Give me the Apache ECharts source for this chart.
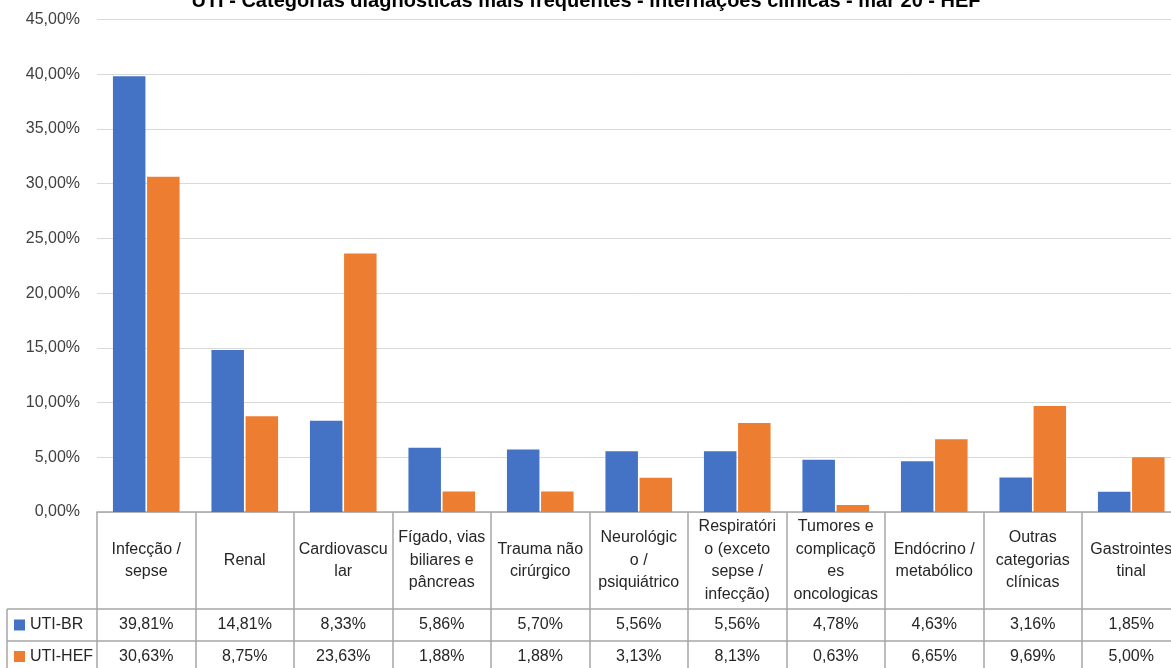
<!DOCTYPE html>
<html>
<head>
<meta charset="utf-8">
<script src="https://cdn.jsdelivr.net/npm/echarts@6/dist/echarts.min.js"></script>
<style>
  html, body { margin: 0; padding: 0; background: #fff; overflow: hidden; }
  /* o gráfico original está cortado à direita: área um pouco mais larga que a janela */
  #chart { width: 1181px; height: 668px; }
</style>
</head>
<body>
<div id="chart"></div>
<script>
// categorias como aparecem (quebra de linha igual ao Excel)
const categories = [
    'Infecção /\nsepse',
    'Renal',
    'Cardiovascu\nlar',
    'Fígado, vias\nbiliares e\npâncreas',
    'Trauma não\ncirúrgico',
    'Neurológic\no /\npsiquiátrico',
    'Respiratóri\no (exceto\nsepse /\ninfecção)',
    'Tumores e\ncomplicaçõ\nes\noncologicas',
    'Endócrino /\nmetabólico',
    'Outras\ncategorias\nclínicas',
    'Gastrointes\ntinal'
];
const seriesNames = ['UTI-BR', 'UTI-HEF'];
const utiBR = [39.81, 14.81, 8.33, 5.86, 5.70, 5.56, 5.56, 4.78, 4.63, 3.16, 1.85];
const utiHEF = [30.63, 8.75, 23.63, 1.88, 1.88, 3.13, 8.13, 0.63, 6.65, 9.69, 5.00];

const font = '"Liberation Sans", Arial, sans-serif';
const lineColor = '#a6a6a6';
const fmt = v => v.toFixed(2).replace('.', ',') + '%';

const chart = echarts.init(document.getElementById('chart'));

// eixos extras só para as linhas da tabela de dados
const tableAxis = (values, offset) => ({
    type: 'category',
    data: categories,
    position: 'bottom',
    offset: offset,
    axisLine: { show: true, lineStyle: { color: lineColor, width: 1.5 } },
    axisTick: { show: false },
    axisLabel: {
        interval: 0,
        margin: 16,
        verticalAlign: 'middle',
        fontFamily: font,
        fontSize: 16,
        color: '#262626',
        formatter: (v, i) => fmt(values[i])
    }
});

chart.setOption({
    animation: false,
    textStyle: { fontFamily: font },
    title: {
        text: 'UTI - Categorias diagnósticas mais frequentes - internações clínicas - mar 20 - HEF',
        left: 581,
        textAlign: 'center',
        top: -14,
        textStyle: { fontFamily: font, fontSize: 20, fontWeight: 'bold', color: '#000' }
    },
    legend: {
        orient: 'vertical',
        left: 14,
        top: 617,
        padding: 0,
        itemGap: 15.5,
        itemWidth: 11,
        itemHeight: 11,
        icon: 'rect',
        textStyle: { fontFamily: font, fontSize: 16, color: '#262626', lineHeight: 16 },
        data: seriesNames
    },
    grid: { left: 97, right: 0.5, top: 19.5, bottom: 156 },
    xAxis: [
        {
            type: 'category',
            data: categories,
            axisLine: { show: true, lineStyle: { color: lineColor, width: 1.5 } },
            axisTick: {
                show: true,
                interval: 0,
                length: 160,
                lineStyle: { color: lineColor, width: 1.5 }
            },
            axisLabel: {
                interval: 0,
                margin: 48.5,
                verticalAlign: 'middle',
                fontFamily: font,
                fontSize: 16,
                lineHeight: 22.5,
                color: '#262626',
                align: 'center'
            }
        },
        tableAxis(utiBR, 97),
        tableAxis(utiHEF, 129)
    ],
    yAxis: {
        type: 'value',
        min: 0,
        max: 45,
        interval: 5,
        axisLine: { show: false },
        axisTick: { show: false },
        axisLabel: {
            margin: 17,
            fontFamily: font,
            fontSize: 16,
            color: '#404040',
            formatter: fmt
        },
        splitLine: { lineStyle: { color: '#d9d9d9', width: 1 } }
    },
    // moldura da coluna da legenda
    graphic: [
        { type: 'line', shape: { x1: 7, y1: 609, x2: 97, y2: 609 }, style: { stroke: lineColor, lineWidth: 1.5 } },
        { type: 'line', shape: { x1: 7, y1: 641, x2: 97, y2: 641 }, style: { stroke: lineColor, lineWidth: 1.5 } },
        { type: 'line', shape: { x1: 7, y1: 609, x2: 7, y2: 680 }, style: { stroke: lineColor, lineWidth: 1.5 } }
    ],
    series: [
        {
            name: seriesNames[0],
            type: 'bar',
            data: utiBR,
            barWidth: 32.5,
            barGap: '5%',
            itemStyle: { color: '#4472C4' }
        },
        {
            name: seriesNames[1],
            type: 'bar',
            data: utiHEF,
            barWidth: 32.5,
            barGap: '5%',
            itemStyle: { color: '#ED7D31' }
        }
    ]
});
</script>
</body>
</html>
